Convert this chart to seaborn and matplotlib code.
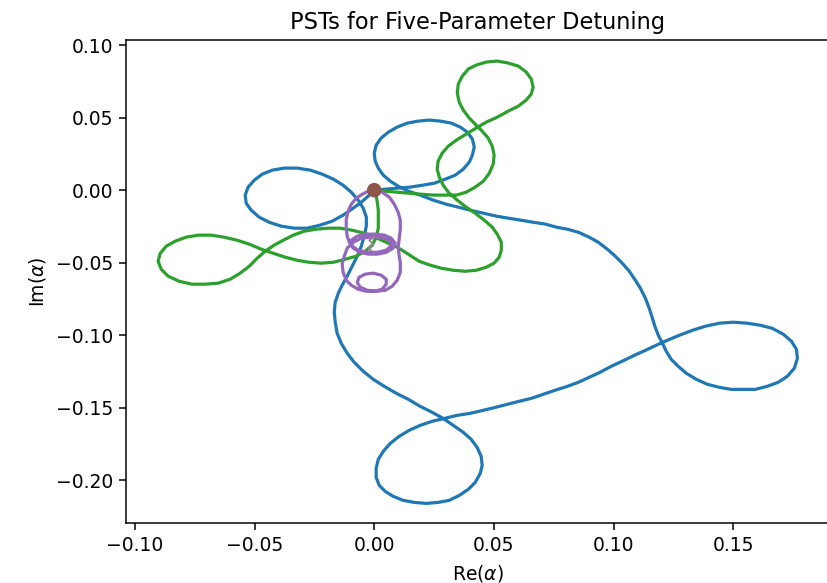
import matplotlib
matplotlib.use("Agg")
import matplotlib.pyplot as plt
import seaborn as sns
import pandas as pd

# ---- data, in units of 1e-3 (Re(alpha), Im(alpha)) ----
blue_re_m = [0.0, 4.6, 9.6, 15.0, 20.1, 25.1, 29.7, 33.8, 37.2, 39.7,
             41.0, 41.8, 41.0, 38.9, 35.9, 32.2, 27.6, 23.0, 18.4, 13.8,
             9.6, 5.9, 2.9, 0.8, 0.0, 0.4, 1.7, 3.8, 6.7, 10.0,
             14.2, 19.2, 24.7, 30.1, 35.1, 40.1, 45.6, 51.0, 56.0, 61.4,
             66.4, 71.5, 76.1, 80.7, 85.3, 89.8, 93.6, 97.4, 100.7, 103.6,
             106.6, 109.1, 111.2, 113.3, 114.9, 116.2, 117.4, 118.7, 120.4, 122.0,
             124.1, 127.0, 130.4, 134.6, 139.2, 144.2, 149.2, 154.2, 159.2, 164.2,
             168.8, 172.6, 175.5, 176.8, 176.4, 174.3, 170.9, 166.3, 161.3, 155.9,
             150.0, 144.2, 138.3, 132.9, 127.5, 122.4, 117.8, 113.3, 108.7, 103.6,
             99.0, 94.4, 89.8, 85.3, 80.7, 75.6, 70.6, 65.6, 60.6, 55.6,
             50.6, 45.6, 40.1, 34.7, 29.3, 24.2, 19.2, 14.6, 10.4, 6.7,
             3.8, 1.7, 0.8, 0.8, 2.1, 4.6, 7.9, 12.1, 16.7, 21.7,
             26.7, 31.3, 35.5, 39.3, 42.2, 44.3, 45.1, 44.7, 43.0, 40.5,
             37.2, 33.0, 28.8, 24.2, 19.2, 14.2, 9.2, 4.2, -0.4, -4.6,
             -8.4, -11.3, -13.8, -15.5, -16.3, -16.7, -16.3, -15.0, -13.4, -11.3,
             -9.2, -7.1, -5.4, -4.2, -3.3, -3.3, -4.6, -6.7, -9.6, -13.0,
             -17.1, -21.7, -26.7, -32.2, -37.6, -42.6, -46.8, -50.1, -52.7, -53.9,
             -53.5, -51.4, -48.1, -43.9, -38.9, -33.4, -28.0, -22.6, -17.6, -13.0,
             -8.8, -5.4, -2.5, 0.0]
blue_im_m = [0.0, 0.7, 1.4, 2.1, 3.4, 4.8, 7.6, 10.3, 14.5, 19.3,
             24.1, 29.7, 35.2, 40.0, 43.5, 46.2, 47.6, 48.3, 47.6, 46.2,
             43.5, 40.0, 35.9, 31.0, 25.5, 20.0, 15.2, 10.3, 6.2, 2.8,
             -0.7, -3.4, -6.9, -9.7, -11.7, -13.8, -15.9, -17.9, -19.3, -20.7,
             -22.1, -23.4, -25.5, -26.9, -29.0, -32.4, -35.9, -40.7, -45.5, -50.3,
             -55.9, -62.1, -67.6, -74.5, -81.4, -88.3, -94.5, -100.0, -105.5, -111.0,
             -116.6, -121.4, -126.2, -130.4, -133.8, -135.9, -137.3, -137.3, -137.3, -135.2,
             -132.4, -128.3, -122.8, -115.9, -109.7, -104.1, -99.3, -95.2, -93.1, -91.7,
             -91.0, -91.7, -93.8, -96.6, -100.0, -103.5, -106.9, -110.4, -113.8, -117.9,
             -121.4, -125.5, -129.0, -132.4, -135.2, -137.9, -140.7, -143.5, -145.5, -147.6,
             -149.7, -151.7, -153.8, -155.2, -157.3, -159.3, -162.1, -165.5, -169.7, -174.5,
             -180.0, -185.5, -191.7, -197.9, -203.5, -207.6, -211.0, -213.8, -215.2, -215.9,
             -215.2, -213.8, -210.4, -206.2, -201.4, -195.2, -189.7, -183.5, -177.3, -171.7,
             -166.9, -162.1, -157.3, -153.1, -149.0, -144.1, -140.0, -135.2, -130.4, -124.8,
             -118.6, -112.4, -105.5, -98.6, -91.0, -84.1, -77.2, -71.0, -65.5, -59.3,
             -52.4, -45.5, -38.6, -31.7, -24.8, -18.6, -12.4, -6.9, -1.4, 3.4,
             7.6, 11.0, 13.8, 15.2, 15.2, 13.8, 11.0, 6.9, 2.1, -3.4,
             -9.0, -13.8, -18.6, -22.1, -24.8, -26.2, -26.2, -24.1, -21.4, -17.2,
             -12.4, -8.3, -4.1, 0.0]

green_re_m = [0.0, 4.6, 9.6, 14.6, 19.6, 24.7, 29.7, 34.3, 38.4, 42.2,
              45.6, 48.1, 49.7, 50.1, 49.3, 47.6, 45.1, 42.6, 39.7, 37.2,
              35.5, 34.7, 35.1, 36.8, 39.3, 42.6, 46.8, 51.4, 56.0, 60.2,
              63.5, 65.6, 66.4, 65.6, 63.5, 60.2, 56.0, 51.4, 46.8, 42.6,
              38.4, 34.3, 30.9, 28.4, 26.7, 26.3, 27.2, 28.8, 31.3, 34.7,
              38.4, 42.2, 46.0, 49.3, 51.4, 53.1, 53.1, 52.2, 50.1, 46.8,
              42.6, 38.0, 33.0, 28.0, 23.4, 18.8, 14.2, 9.6, 5.0, 0.4,
              -4.2, -9.2, -14.2, -19.2, -24.2, -29.3, -33.8, -38.0, -41.8, -45.6,
              -48.9, -52.2, -56.0, -60.2, -65.2, -70.6, -76.1, -81.5, -86.1, -89.0,
              -90.3, -89.4, -86.9, -83.2, -78.6, -73.6, -68.1, -62.7, -57.3, -52.2,
              -47.2, -42.2, -37.2, -32.2, -27.2, -22.1, -17.1, -12.1, -7.5, -3.8,
              -0.8, 0.8, 1.7, 1.7, 1.7, 1.3, 0.8, 0.0]
green_im_m = [0.0, -0.7, -1.4, -2.1, -2.8, -3.4, -3.4, -3.4, -1.4, 2.1,
              6.2, 11.7, 17.9, 24.1, 30.3, 35.9, 40.7, 44.8, 49.7, 55.2,
              60.7, 66.9, 73.1, 78.6, 83.5, 86.2, 88.3, 89.0, 87.6, 85.5,
              81.4, 76.6, 71.0, 66.2, 62.1, 57.9, 54.5, 50.3, 46.9, 42.8,
              38.6, 34.5, 30.3, 25.5, 20.0, 14.5, 9.0, 3.4, -2.1, -6.9,
              -11.7, -15.9, -20.7, -25.5, -30.3, -35.9, -41.4, -46.2, -50.3, -53.1,
              -55.2, -55.9, -55.2, -53.8, -51.7, -49.0, -44.1, -39.3, -35.9, -32.4,
              -29.7, -27.6, -26.2, -26.2, -26.9, -28.3, -31.0, -34.5, -37.9, -42.1,
              -46.9, -52.4, -57.2, -61.4, -64.1, -64.8, -64.8, -62.8, -59.3, -54.5,
              -49.0, -43.5, -38.6, -35.2, -32.4, -31.0, -31.0, -32.4, -34.5, -37.2,
              -40.7, -43.5, -46.2, -48.3, -49.7, -50.3, -49.7, -47.6, -45.5, -42.1,
              -37.9, -32.4, -26.2, -20.0, -13.8, -8.3, -4.1, 0.0]

purple_re_m = [0.0, -2.5, -5.0, -7.5, -9.6, -10.9, -11.7, -11.7, -11.3, -10.4,
               -8.8, -5.9, -2.5, 1.3, 5.0, 7.9, 8.8, 7.1, 4.2, 0.4,
               -3.8, -7.1, -9.6, -9.2, -6.7, -2.9, 1.3, 5.0, 7.5, 6.3,
               2.9, -1.3, -5.4, -8.8, -11.3, -12.5, -13.4, -13.0, -11.7, -9.6,
               -6.7, -3.3, 0.0, 3.3, 5.0, 5.0, 2.9, -0.4, -3.8, -6.3,
               -7.1, -5.9, -2.9, 0.8, 4.6, 7.5, 9.6, 10.9, 10.9, 10.4,
               10.0, 10.4, 10.9, 10.9, 10.0, 8.4, 6.3, 3.3, 0.0]
purple_im_m = [0.0, -0.7, -2.8, -5.5, -9.7, -14.5, -20.0, -26.2, -31.7, -35.9,
               -40.0, -42.8, -44.1, -44.1, -42.8, -40.0, -36.6, -33.1, -31.0, -30.3,
               -30.3, -31.7, -34.5, -38.6, -41.4, -42.8, -42.8, -41.4, -37.9, -34.5,
               -32.4, -32.4, -33.1, -35.9, -40.0, -45.5, -51.0, -56.6, -62.1, -65.5,
               -68.3, -69.7, -69.7, -68.3, -64.8, -61.4, -58.6, -57.2, -57.9, -60.0,
               -63.5, -66.9, -69.0, -69.7, -69.0, -66.2, -62.1, -56.6, -50.3, -44.8,
               -39.3, -33.8, -26.9, -20.7, -15.2, -9.7, -4.8, -1.4, 0.0]

gray_re_m = [0.0, -2.1, -0.4, -2.5, -1.3]
gray_im_m = [-32.4, -34.5, -37.2, -40.0, -41.4]

origin_re = [0.0]
origin_im = [0.0]

SCALE = 1e-3

# ---- figure ----
W, H, DPI = 827, 583, 135
fig = plt.figure(figsize=(W / DPI, H / DPI), dpi=DPI)
ax = fig.add_axes([0.1524, 0.1029, 0.850, 0.8285])

curves = [
    (blue_re_m, blue_im_m, "#1f77b4", 1.7),
    (green_re_m, green_im_m, "#2ca02c", 1.7),
    (purple_re_m, purple_im_m, "#9467bd", 1.7),
    (gray_re_m, gray_im_m, "#8c8c8c", 1.0),
]
for re, im, col, lw in curves:
    df = pd.DataFrame({"re": [v * SCALE for v in re], "im": [v * SCALE for v in im]})
    sns.lineplot(data=df, x="re", y="im", sort=False, estimator=None,
                 color=col, linewidth=lw, ax=ax)

sns.scatterplot(x=origin_re, y=origin_im, color="#8c564b", s=60,
                edgecolor="none", zorder=5, ax=ax)

ax.set_xlim(-0.1037, 0.190)
ax.set_ylim(-0.2294, 0.1035)
ax.set_xlabel(r"Re($\alpha$)")
ax.set_ylabel(r"Im($\alpha$)")
ax.set_title("PSTs for Five-Parameter Detuning")

fig.savefig("out.png", dpi=DPI)
